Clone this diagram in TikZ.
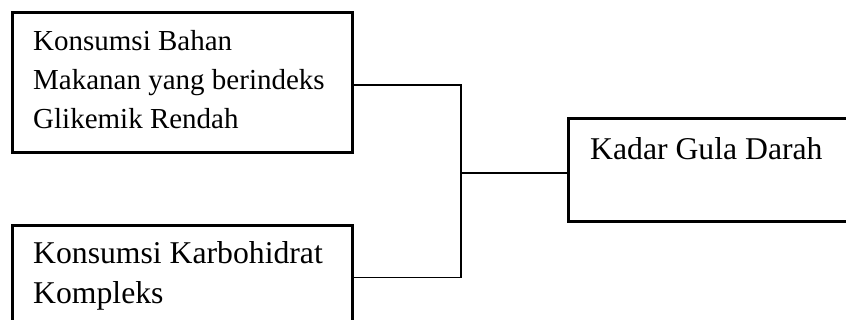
\documentclass[tikz,border=0pt]{standalone}
\usepackage{fontspec}
\setmainfont{Liberation Serif}
\begin{document}
\begin{tikzpicture}[x=1pt,y=-1pt,
  boxline/.style={draw=black,line width=3pt,fill=white},
  conn/.style={draw=black,line width=1.4pt},
  smalltxt/.style={anchor=base west,inner sep=0pt,align=left,font=\fontsize{29}{39}\selectfont},
  bigtxt/.style={anchor=base west,inner sep=0pt,align=left,font=\fontsize{31.7}{40}\selectfont}]
\useasboundingbox (0,0) rectangle (846,320);
\clip (0,0) rectangle (846,320);
% boxes
\node[boxline,rectangle,anchor=north west,inner sep=0pt,minimum width=340.5pt,minimum height=139.5pt] (b1) at (10.5,11.5) {};
\node[boxline,rectangle,anchor=north west,inner sep=0pt,minimum width=340pt,minimum height=130pt] (b2) at (11,224) {};
\node[boxline,rectangle,anchor=north west,inner sep=0pt,minimum width=320pt,minimum height=103pt] (b3) at (567,117.5) {};
% texts (base anchor = baseline of the last line)
\node[smalltxt] (t1) at (33,128.3) {Konsumsi Bahan\\Makanan yang berindeks\\Glikemik Rendah};
\node[bigtxt] (t2) at (33,303.5) {Konsumsi Karbohidrat\\Kompleks};
\node[bigtxt] (t3) at (590,160) {Kadar Gula Darah};
% connectors
\coordinate (ja) at (461,85);
\coordinate (jb) at (461,277.5);
\coordinate (jm) at (461,173);
\draw[conn] (ja -| b1.east) -- (ja) -- (jb) -- (jb -| b2.east);
\draw[conn] (jm) -- (jm -| b3.west);
\end{tikzpicture}
\end{document}
